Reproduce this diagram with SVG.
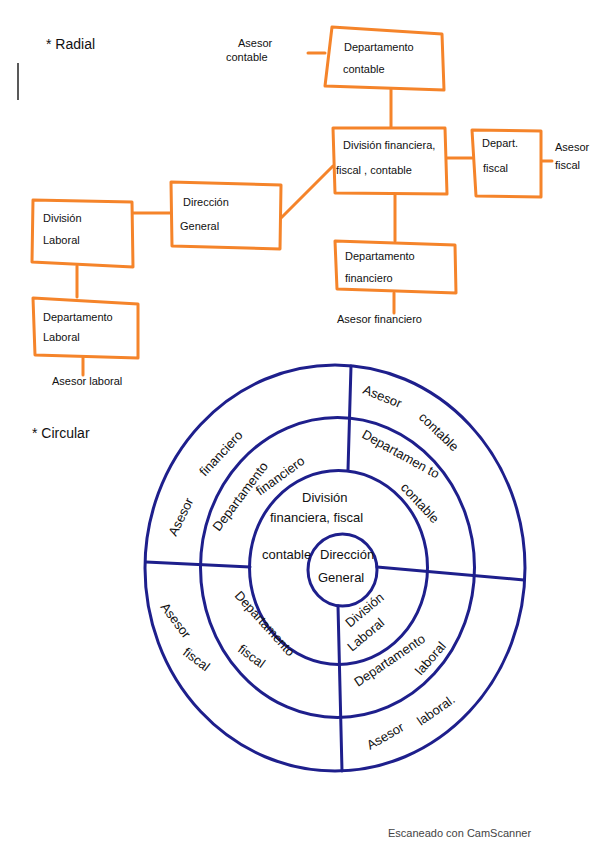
<svg xmlns="http://www.w3.org/2000/svg" width="599" height="848" viewBox="0 0 599 848">
<style>
.box{fill:#fff;stroke:#f5842a;stroke-width:3;stroke-linejoin:round}
.oc{stroke:#f5842a;stroke-width:3;fill:none;stroke-linecap:round}
.ring{fill:none;stroke:#1e1f8c;stroke-width:3}
.nc{stroke:#1e1f8c;stroke-width:3;fill:none;stroke-linecap:round}
.t{font-family:"Liberation Sans",Arial,sans-serif;font-size:11px;fill:#111}
.c{font-family:"Liberation Sans",Arial,sans-serif;font-size:13px;fill:#111}
.h{font-family:"Liberation Sans",Arial,sans-serif;font-size:14px;fill:#111}
</style>
<rect width="599" height="848" fill="#fff"/>
<line x1="18" y1="63" x2="18" y2="100" stroke="#222" stroke-width="1.5"/>
<text class="h" x="46" y="49">* Radial</text>
<text class="h" x="32" y="438">* Circular</text>

<g id="connectors">
<line class="oc" x1="308" y1="53" x2="325" y2="53"/>
<line class="oc" x1="391" y1="89" x2="391" y2="128"/>
<line class="oc" x1="447" y1="158" x2="472" y2="158"/>
<line class="oc" x1="541" y1="161" x2="552" y2="161"/>
<line class="oc" x1="395" y1="194" x2="395" y2="241"/>
<line class="oc" x1="394" y1="293" x2="394" y2="313"/>
<line class="oc" x1="281" y1="218" x2="333" y2="166"/>
<line class="oc" x1="133" y1="213" x2="171" y2="213"/>
<line class="oc" x1="77" y1="266" x2="77" y2="297"/>
<line class="oc" x1="83" y1="358" x2="83" y2="375"/>
</g>

<g id="asesor-contable"><text class="t" x="238" y="47">Asesor</text><text class="t" x="226" y="61">contable</text></g>
<g id="departamento-contable"><polygon class="box" points="332,27 442,34 444,90 325,86"/><text class="t" x="344" y="51">Departamento</text><text class="t" x="343" y="73">contable</text></g>
<g id="division-financiera"><polygon class="box" points="333,128 445,128 447,194 335,193"/><text class="t" x="343" y="149">División financiera,</text><text class="t" x="336" y="174">fiscal , contable</text></g>
<g id="depart-fiscal"><polygon class="box" points="472,130 541,131 541,197 476,196"/><text class="t" x="482" y="147">Depart.</text><text class="t" x="483" y="172">fiscal</text></g>
<g id="asesor-fiscal"><text class="t" x="555" y="151">Asesor</text><text class="t" x="555" y="169">fiscal</text></g>
<g id="departamento-financiero"><polygon class="box" points="335,241 455,245 456,293 337,289"/><text class="t" x="345" y="260">Departamento</text><text class="t" x="345" y="282">financiero</text></g>
<g id="asesor-financiero"><text class="t" x="337" y="323">Asesor financiero</text></g>
<g id="direccion-general"><polygon class="box" points="171,182 281,185 280,249 172,246"/><text class="t" x="183" y="206">Dirección</text><text class="t" x="180" y="230">General</text></g>
<g id="division-laboral"><polygon class="box" points="33,200 132,202 133,267 32,262"/><text class="t" x="43" y="222">División</text><text class="t" x="43" y="244">Laboral</text></g>
<g id="departamento-laboral"><polygon class="box" points="33,298 138,304 138,358 35,355"/><text class="t" x="43" y="321">Departamento</text><text class="t" x="43" y="341">Laboral</text></g>
<g id="asesor-laboral"><text class="t" x="52" y="385">Asesor laboral</text></g>

<g id="rings">
<ellipse class="ring" cx="335" cy="568" rx="190" ry="203"/>
<ellipse class="ring" cx="337.5" cy="567.5" rx="137" ry="150"/>
<ellipse class="ring" cx="338.5" cy="567.5" rx="89" ry="97"/>
<ellipse class="ring" cx="342.5" cy="570" rx="34.5" ry="36"/>
</g>
<g id="ring-dividers">
<line class="nc" x1="351" y1="366" x2="348" y2="470"/>
<line class="nc" x1="146" y1="562" x2="250" y2="567"/>
<line class="nc" x1="377" y1="567" x2="524" y2="580"/>
<line class="nc" x1="338" y1="606" x2="342" y2="771"/>
</g>

<g id="c-direccion"><text class="c" x="320" y="559">Dirección</text><text class="c" x="318" y="582">General</text></g>
<g id="c-division-fin"><text class="c" x="302" y="502">División</text><text class="c" x="270" y="522">financiera, fiscal</text><text class="c" x="262" y="559">contable</text></g>
<g id="c-dep-contable"><text class="c" transform="translate(361,437) rotate(29)">Departamen to</text><text class="c" transform="translate(400,488) rotate(47)">contable</text></g>
<g id="c-ase-contable"><text class="c" transform="translate(362,393) rotate(22)">Asesor</text><text class="c" transform="translate(418,418) rotate(44)">contable</text></g>
<g id="c-ase-fin"><text class="c" transform="translate(176,537) rotate(-64)">Asesor</text><text class="c" transform="translate(205,477) rotate(-47)">financiero</text></g>
<g id="c-dep-fin"><text class="c" transform="translate(219,532) rotate(-53)">Departamento</text><text class="c" transform="translate(260,496) rotate(-36)">financiero</text></g>
<g id="c-div-lab"><text class="c" transform="translate(350,628) rotate(-40)">División</text><text class="c" transform="translate(352,652) rotate(-40)">Laboral</text></g>
<g id="c-dep-lab"><text class="c" transform="translate(358,687) rotate(-34)">Departamento</text><text class="c" transform="translate(421,676) rotate(-49)">laboral</text></g>
<g id="c-ase-lab"><text class="c" transform="translate(370,750) rotate(-30)">Asesor</text><text class="c" transform="translate(421,726) rotate(-35)">laboral.</text></g>
<g id="c-ase-fis"><text class="c" transform="translate(160,607) rotate(53)">Asesor</text><text class="c" transform="translate(182,654) rotate(37)">fiscal</text></g>
<g id="c-dep-fis"><text class="c" transform="translate(234,596) rotate(48)">Departamento</text><text class="c" transform="translate(237,651) rotate(36)">fiscal</text></g>

<text x="388" y="837" font-family="Liberation Sans,Arial,sans-serif" font-size="11" fill="#444">Escaneado con CamScanner</text>
</svg>
